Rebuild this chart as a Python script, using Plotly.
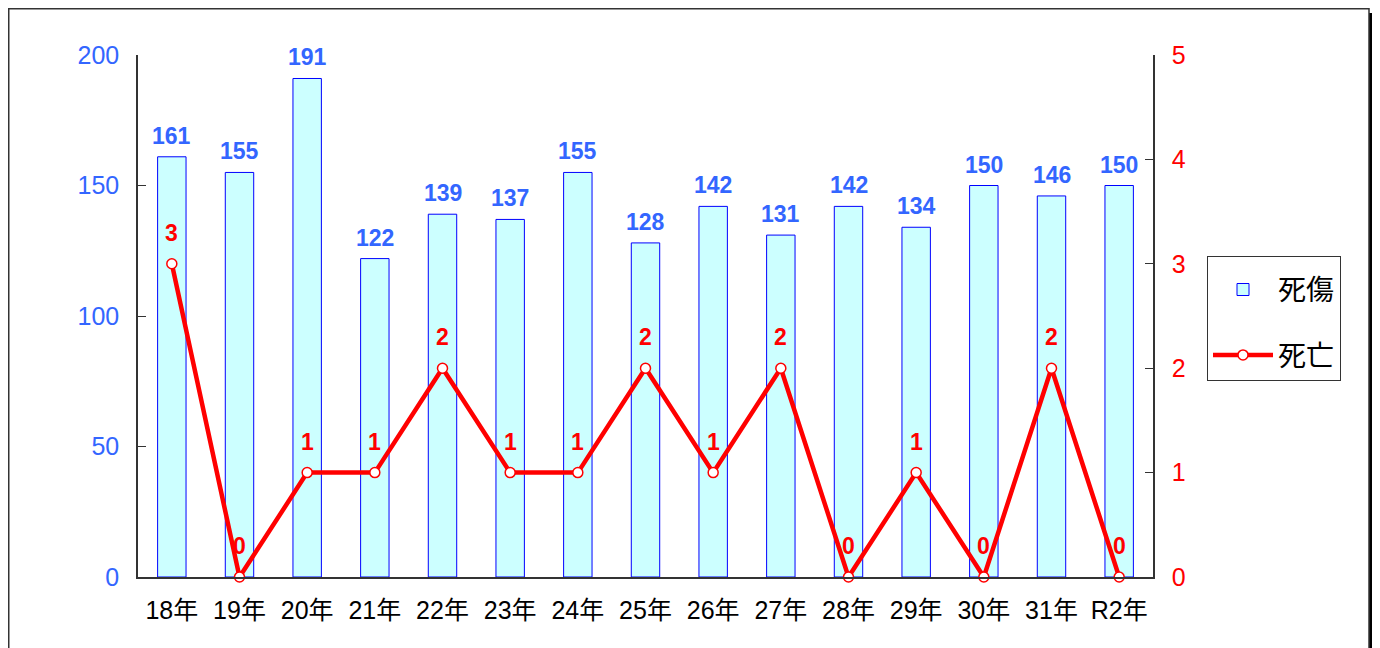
import plotly.graph_objects as go

categories = ["18年", "19年", "20年", "21年", "22年", "23年", "24年", "25年",
              "26年", "27年", "28年", "29年", "30年", "31年", "R2年"]
casualties = [161, 155, 191, 122, 139, 137, 155, 128, 142, 131, 142, 134, 150, 146, 150]
deaths = [3, 0, 1, 1, 2, 1, 1, 2, 1, 2, 0, 1, 0, 2, 0]
left_ticks = [0, 50, 100, 150, 200]
right_ticks = [0, 1, 2, 3, 4, 5]

FONT = "Liberation Sans, Noto Sans CJK JP"
BLUE_TXT = "#3366FF"

# page has an 8px body margin; figure coordinates are page coords - 8
W, H = 1372, 640
L, R, T, B = 130, 227, 47, 71
pw, ph = W - L - R, H - T - B

fig = go.Figure()
fig.add_trace(go.Bar(
    x=categories, y=casualties, name="死傷", width=0.42,
    marker=dict(color="#CCFFFF", line=dict(color="#0000FF", width=1)),
    legendgroup="a",
))
fig.add_trace(go.Scatter(
    x=categories, y=deaths, name="死亡", yaxis="y2", mode="lines+markers",
    line=dict(color="#FF0000", width=4.5),
    marker=dict(size=10, color="white", line=dict(color="#FF0000", width=1.5)),
    cliponaxis=False, legendgroup="b",
))
for c, v in zip(categories, casualties):
    fig.add_annotation(x=c, y=v, yref="y", text=str(v), showarrow=False,
                       yshift=21, font=dict(family=FONT, size=23,
                                            color=BLUE_TXT, weight="bold"))
for c, d in zip(categories, deaths):
    fig.add_annotation(x=c, y=d, yref="y2", text=str(d), showarrow=False,
                       yshift=31, font=dict(family="Liberation Sans", size=23,
                                            color="#FF0000", weight="bold"))

def px(x):
    return (x - L) / pw

def py(y):
    return (H - B - y) / ph

# outer frame and shadow
fig.add_shape(type="rect", xref="paper", yref="paper", x0=px(1361), x1=px(1369),
              y0=py(700), y1=py(5), fillcolor="black", line=dict(width=0), layer="below")
fig.add_shape(type="rect", xref="paper", yref="paper", x0=px(0.75), x1=px(1361),
              y0=py(700), y1=py(0.75), fillcolor="rgba(0,0,0,0)",
              line=dict(color="#333333", width=1.5), layer="below")

fig.update_layout(
    width=W, height=H, margin=dict(l=L, r=R, t=T, b=B),
    paper_bgcolor="white", plot_bgcolor="white",
    xaxis=dict(range=[-0.5, len(categories) - 0.5], showline=True,
               linecolor="#333333", linewidth=1.5, ticks="",
               ticklabelstandoff=10,
               tickfont=dict(family=FONT, size=25, color="black")),
    yaxis=dict(range=[0, 200], tickvals=left_ticks, showline=True, linecolor="#333333",
               linewidth=1.5, ticks="inside", ticklen=8, tickcolor="#333333",
               showgrid=False, zeroline=False, ticklabelstandoff=12,
               tickfont=dict(family=FONT, size=25, color=BLUE_TXT)),
    yaxis2=dict(range=[0, 5], tickvals=right_ticks, overlaying="y", side="right",
                showline=True, linecolor="#333333", linewidth=1.5, ticks="inside",
                ticklen=8, tickcolor="#333333", showgrid=False, zeroline=False,
                ticklabelstandoff=12,
                tickfont=dict(family=FONT, size=25, color="#FF0000")),
    legend=dict(x=px(1199), y=py(248), xanchor="left", yanchor="top",
                bordercolor="#333333", borderwidth=1, bgcolor="white",
                font=dict(family="Noto Sans CJK JP", size=28, color="black"),
                title=dict(text=" ", font=dict(size=6)),
                traceorder="grouped", tracegroupgap=26, itemwidth=60),
    showlegend=True,
)

fig.write_html("out.html")
